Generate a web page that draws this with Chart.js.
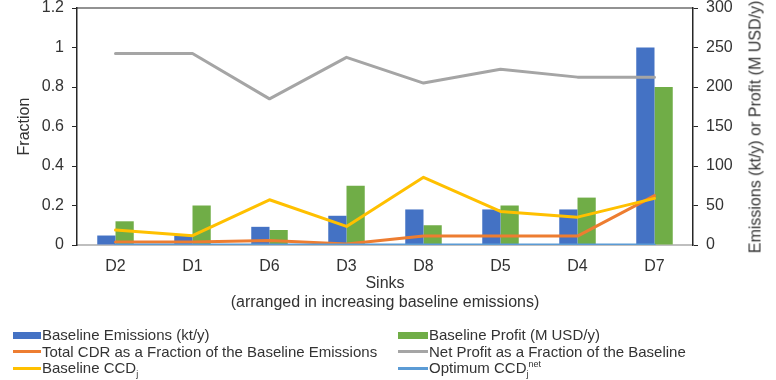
<!DOCTYPE html>
<html><head><meta charset="utf-8">
<script src="https://cdn.jsdelivr.net/npm/chart.js@4/dist/chart.umd.min.js"></script>
<style>
html,body{margin:0;padding:0;background:#fff;}
#wrap{position:relative;width:776px;height:380px;font-family:"Liberation Sans",Arial,sans-serif;color:#333;overflow:hidden;}
canvas{position:absolute;left:0;top:0;}
#rtitle{position:absolute;left:755px;top:126.5px;transform:translate(-50%,-50%) rotate(-90deg);white-space:nowrap;font-size:16px;line-height:19px;}
.leg{position:absolute;font-size:15px;line-height:16px;white-space:nowrap;transform:translateY(-50%);}
.sw{position:absolute;}
sub,sup{font-size:9px;line-height:0;}
</style></head>
<body><div id="wrap"><canvas id="c" width="776" height="380"></canvas><div id="rtitle">Emissions (kt/y) or Profit (M USD/y)</div><div id="legend"></div></div>
<script>
const sinks = ['D2','D1','D6','D3','D8','D5','D4','D7'];
const baselineEmissions = [12, 12, 23, 37, 45, 45, 45, 250];
const baselineProfit = [30, 50, 19, 75, 25, 50, 60, 200];
const cdrFraction = [0.015, 0.015, 0.023, 0.005, 0.045, 0.045, 0.045, 0.25];
const netProfitFraction = [0.97, 0.97, 0.74, 0.95, 0.82, 0.89, 0.85, 0.85];
const baselineCCD = [0.076, 0.047, 0.229, 0.094, 0.343, 0.17, 0.141, 0.236];
const optimumCCDnet = [0, 0, 0, 0, 0, 0, 0, 0];
const fractionTicks = ['0','0.2','0.4','0.6','0.8','1','1.2'];
const amountTicks = ['0','50','100','150','200','250','300'];
const seriesNames = ['Baseline Emissions (kt/y)','Baseline Profit (M USD/y)','Total CDR as a Fraction of the Baseline Emissions','Net Profit as a Fraction of the Baseline','Baseline CCDj','Optimum CCDjnet'];
const seriesHtml = ['Baseline Emissions (kt/y)','Baseline Profit (M USD/y)','Total CDR as a Fraction of the Baseline Emissions','Net Profit as a Fraction of the Baseline','Baseline CCD<sub>j</sub>','Optimum CCD<sub>j</sub><sup>net</sup>'];
const colors = ['#4472C4','#70AD47','#ED7D31','#A5A5A5','#FFC000','#5B9BD5'];

const FONT = '"Liberation Sans", Arial, sans-serif';
const TXT = '#333333';

const topBorder = {
  id:'topBorder',
  afterDraw(chart){
    const {ctx, chartArea:a} = chart;
    ctx.save();
    ctx.strokeStyle = '#262626';
    ctx.lineWidth = 1.2;
    ctx.beginPath();
    ctx.moveTo(a.left, a.top);
    ctx.lineTo(a.right, a.top);
    ctx.stroke();
    ctx.restore();
  }
};

function lineDs(i, data, order){
  return {type:'line', label:seriesNames[i], data, yAxisID:'y', borderColor:colors[i], backgroundColor:colors[i], borderWidth:3, pointRadius:0, tension:0, order, borderCapStyle:'round', borderJoinStyle:'round'};
}
function noPad(s){ s.paddingTop = 0; s.paddingBottom = 0; }

new Chart(document.getElementById('c'), {
  type:'bar',
  data:{
    labels:sinks,
    datasets:[
      {type:'bar', label:seriesNames[0], data:baselineEmissions, yAxisID:'y2', backgroundColor:colors[0], order:10, categoryPercentage:0.474, barPercentage:1},
      {type:'bar', label:seriesNames[1], data:baselineProfit, yAxisID:'y2', backgroundColor:colors[1], order:10, categoryPercentage:0.474, barPercentage:1},
      lineDs(2, cdrFraction, 4),
      lineDs(3, netProfitFraction, 3),
      lineDs(4, baselineCCD, 2),
      lineDs(5, optimumCCDnet, 1)
    ]
  },
  options:{
    responsive:false,
    animation:false,
    devicePixelRatio:1,
    layout:{padding:{left:0,right:0,top:8,bottom:68}},
    plugins:{legend:{display:false}, tooltip:{enabled:false}},
    scales:{
      x:{
        position:'bottom',
        grid:{display:false, drawTicks:false},
        border:{display:true, color:'#BFBFBF', width:2},
        ticks:{padding:12, color:TXT, font:{family:FONT, size:16}},
        title:{display:true, text:['Sinks','(arranged in increasing baseline emissions)'], color:TXT, font:{family:FONT, size:16}, padding:{top:0,bottom:0}},
        afterFit(s){ s.height = 67; s.paddingLeft = 0; s.paddingRight = 0; }
      },
      y:{
        position:'left', min:0, max:1.2,
        ticks:{stepSize:0.2, padding:8, color:TXT, font:{family:FONT, size:16}, callback:(v,i)=>fractionTicks[i]},
        grid:{display:true, drawOnChartArea:false, drawTicks:true, tickLength:5, color:'#262626'},
        border:{display:true, color:'#262626', width:1.5},
        title:{display:true, text:'Fraction', color:TXT, font:{family:FONT, size:16}, padding:{top:15,bottom:0}},
        afterFit(s){ s.width = 77; noPad(s); }
      },
      y2:{
        position:'right', min:0, max:300,
        ticks:{stepSize:50, padding:8, color:TXT, font:{family:FONT, size:16}, callback:(v,i)=>amountTicks[i]},
        grid:{display:true, drawOnChartArea:false, drawTicks:true, tickLength:5, color:'#262626'},
        border:{display:true, color:'#262626', width:1.5},
        afterFit(s){ s.width = 83; noPad(s); }
      }
    }
  },
  plugins:[topBorder]
});

// HTML legend (two columns, three rows)
const leg = document.getElementById('legend');
const colX = [[13,42],[398,429]];
const rowY = [335, 351.5, 368];
for (let i = 0; i < seriesNames.length; i++) {
  const col = i % 2, row = Math.floor(i / 2);
  const sw = document.createElement('div');
  sw.className = 'sw';
  const isBar = i < 2;
  const h = isBar ? 7 : 3;
  sw.style.left = colX[col][0] + 'px';
  sw.style.width = (colX[col][1] - colX[col][0] - 1) + 'px';
  sw.style.top = (rowY[row] - h/2) + 'px';
  sw.style.height = h + 'px';
  sw.style.background = colors[i];
  leg.appendChild(sw);
  const t = document.createElement('div');
  t.className = 'leg';
  t.style.left = colX[col][1] + 'px';
  t.style.top = rowY[row] + 'px';
  t.innerHTML = seriesHtml[i];
  leg.appendChild(t);
}
</script>
</body></html>
